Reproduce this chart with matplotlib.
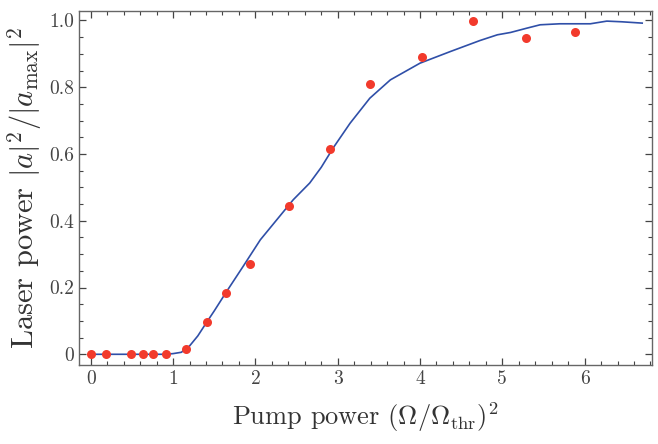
import matplotlib
matplotlib.use("Agg")
import matplotlib.pyplot as plt
from matplotlib.ticker import MultipleLocator

plt.rcParams['font.family'] = 'serif'
plt.rcParams['font.serif'] = ['cmr10']
plt.rcParams['mathtext.fontset'] = 'cm'
plt.rcParams['axes.unicode_minus'] = False

# measured points (red dots)
pump_pts = [0.0, 0.19, 0.49, 0.63, 0.76, 0.91, 1.16, 1.41, 1.64, 1.93, 2.41, 2.91,
            3.39, 4.02, 4.65, 5.29, 5.88]
laser_pts = [0.0, 0.0, 0.0, 0.0, 0.0, 0.0, 0.015, 0.096, 0.183, 0.271, 0.445, 0.615,
             0.81, 0.892, 0.997, 0.946, 0.965]

# theory curve (blue line)
pump_curve = [0.0, 0.5, 0.9, 1.0, 1.1, 1.2, 1.3, 1.4, 1.5, 1.65, 1.85, 2.06, 2.26,
              2.46, 2.66, 2.8, 2.95, 3.15, 3.39, 3.64, 4.0, 4.37, 4.73, 4.94, 5.1,
              5.3, 5.46, 5.7, 6.07, 6.27, 6.45, 6.7]
laser_curve = [0.0, 0.0, 0.0, 0.002, 0.006, 0.025, 0.055, 0.093, 0.13, 0.188, 0.263,
               0.343, 0.403, 0.463, 0.513, 0.56, 0.62, 0.692, 0.767, 0.822, 0.872,
               0.907, 0.94, 0.957, 0.964, 0.977, 0.987, 0.99, 0.99, 0.998, 0.996, 0.992]

xticks = [0, 1, 2, 3, 4, 5, 6]
yticks = [0, 0.2, 0.4, 0.6, 0.8, 1.0]
ytick_labels = ['0', '0.2', '0.4', '0.6', '0.8', '1.0']

fig = plt.figure(figsize=(6.58, 4.44), dpi=100)
ax = fig.add_axes([0.1205, 0.178, 0.8705, 0.797])

ax.plot(pump_curve, laser_curve, color='#2f4fa8', lw=1.2, zorder=2)
ax.plot(pump_pts, laser_pts, 'o', color='#f23a2c', ms=6.5, mec='none', zorder=3)

ax.set_xlim(-0.14, 6.82)
ax.set_ylim(-0.032, 1.028)
ax.set_xticks(xticks)
ax.set_xticklabels([str(t) for t in xticks])
ax.set_yticks(yticks)
ax.set_yticklabels(ytick_labels)
ax.xaxis.set_minor_locator(MultipleLocator(0.2))
ax.yaxis.set_minor_locator(MultipleLocator(0.05))
ax.tick_params(which='both', direction='in', top=True, right=True,
               color='#444444', labelsize=14, labelcolor='#444444')
ax.tick_params(which='major', length=5, width=0.9)
ax.tick_params(which='minor', length=3, width=0.8)
for s in ax.spines.values():
    s.set_color('#666666')
    s.set_linewidth(1.0)

ax.set_xlabel(r'Pump power $(\Omega/\Omega_{\mathrm{thr}})^2$', fontsize=19,
              color='#333333', labelpad=9)
ax.set_ylabel(r'Laser power $|a|^2/|a_{\mathrm{max}}|^2$', fontsize=22,
              color='#333333', labelpad=4)

fig.savefig('out.png', dpi=100)
